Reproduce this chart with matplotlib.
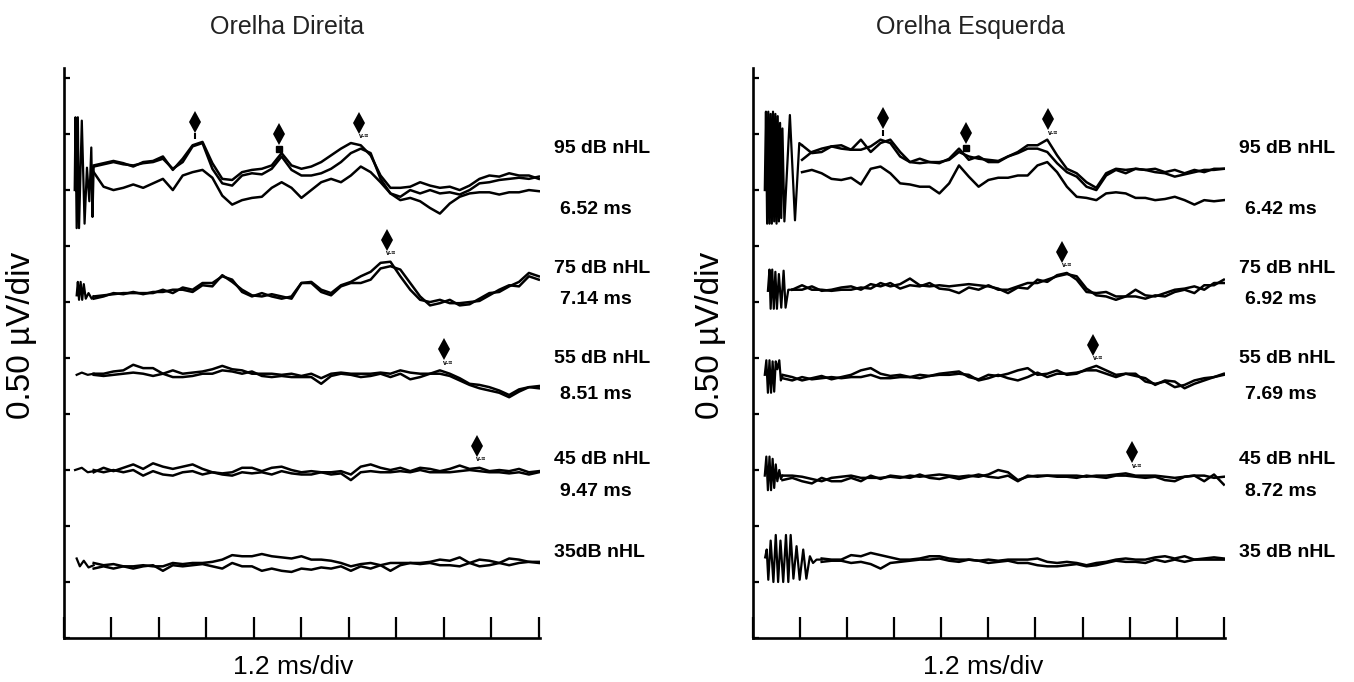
import numpy as np
import matplotlib.pyplot as plt
from matplotlib.ticker import MultipleLocator

plt.rcParams["font.family"] = ["Liberation Sans", "DejaVu Sans"]

STEP_MS = 0.25  # spacing of the samples

# vertical offset (uV) of each stimulus row in the stack
row_base = [4.0, 3.0, 2.35, 1.5, 0.67]
peak_names = [["I", "III", "V"], ["V"], ["V"], ["V"], []]

# ---------------- Orelha Direita (left panel) ----------------
od_db_labels = ["95 dB nHL", "75 dB nHL", "55 dB nHL", "45 dB nHL", "35dB nHL"]
od_latency_labels = ["6.52 ms", "7.14 ms", "8.51 ms", "9.47 ms", ""]
od_peak_ms = [[3.32, 5.44, 7.46], [8.16], [9.60], [10.43], []]
od_start_ms = [0.75, 0.75, 0.75, 0.75, 0.75]

od_95 = [
    [0.22, 0.24, 0.26, 0.24, 0.21, 0.25, 0.26, 0.30, 0.18, 0.28, 0.40, 0.43, 0.24, 0.10, 0.09, 0.16,
     0.18, 0.19, 0.22, 0.33, 0.22, 0.19, 0.21, 0.25, 0.31, 0.37, 0.42, 0.40, 0.31, 0.13, 0.02, 0.02,
     0.03, 0.07, 0.04, 0.02, 0.03, 0.00, 0.04, 0.10, 0.13, 0.12, 0.15, 0.13, 0.13, 0.10],
    [0.21, 0.23, 0.25, 0.23, 0.22, 0.24, 0.25, 0.28, 0.19, 0.25, 0.39, 0.42, 0.19, 0.06, 0.04, 0.13,
     0.15, 0.14, 0.19, 0.30, 0.18, 0.13, 0.13, 0.15, 0.19, 0.25, 0.33, 0.37, 0.33, 0.10, -0.03, -0.06,
     0.00, -0.03, 0.00, -0.03, -0.02, -0.04, 0.00, 0.06, 0.07, 0.09, 0.10, 0.11, 0.10, 0.12],
    [0.16, 0.03, 0.00, 0.02, 0.05, 0.02, 0.06, 0.10, 0.00, 0.13, 0.16, 0.18, 0.11, -0.05, -0.13, -0.09,
     -0.07, -0.06, 0.02, 0.07, 0.02, -0.07, 0.00, 0.07, 0.10, 0.07, 0.13, 0.21, 0.16, 0.07, -0.03, -0.09,
     -0.07, -0.10, -0.16, -0.21, -0.12, -0.06, -0.03, -0.02, -0.02, -0.04, -0.02, -0.02, 0.00, -0.01],
]
od_75 = [
    [0.05, 0.06, 0.07, 0.08, 0.08, 0.08, 0.08, 0.11, 0.08, 0.13, 0.11, 0.17, 0.17, 0.23, 0.20, 0.09,
     0.05, 0.08, 0.05, 0.03, 0.05, 0.17, 0.18, 0.11, 0.08, 0.15, 0.18, 0.23, 0.27, 0.35, 0.36, 0.23,
     0.11, 0.02, 0.00, 0.02, -0.01, -0.01, 0.00, 0.01, 0.06, 0.11, 0.15, 0.14, 0.23, 0.20],
    [0.03, 0.05, 0.08, 0.07, 0.09, 0.07, 0.09, 0.09, 0.11, 0.11, 0.09, 0.15, 0.14, 0.24, 0.18, 0.11,
     0.06, 0.05, 0.07, 0.05, 0.03, 0.17, 0.17, 0.09, 0.06, 0.14, 0.17, 0.17, 0.20, 0.30, 0.32, 0.29,
     0.17, 0.05, -0.03, -0.01, 0.02, -0.03, -0.02, 0.03, 0.08, 0.09, 0.14, 0.18, 0.26, 0.23],
]
od_55 = [
    [0.01, 0.01, 0.03, 0.04, 0.09, 0.06, 0.06, 0.01, 0.04, 0.01, 0.02, 0.03, 0.05, 0.08, 0.05, 0.04,
     0.01, 0.01, 0.01, 0.00, 0.01, -0.01, 0.01, -0.03, 0.01, 0.02, 0.01, 0.01, 0.01, 0.02, 0.01, 0.04,
     0.02, 0.01, 0.01, 0.04, 0.01, -0.03, -0.08, -0.09, -0.11, -0.14, -0.18, -0.13, -0.11, -0.10],
    [0.00, -0.01, 0.00, 0.01, 0.02, 0.01, -0.01, 0.01, -0.02, -0.02, -0.01, 0.01, 0.01, 0.04, 0.03, 0.01,
     0.03, -0.01, -0.02, -0.01, -0.02, -0.02, -0.02, -0.08, -0.01, 0.01, 0.00, -0.02, -0.01, 0.01, -0.02,
     0.01, -0.04, -0.02, 0.01, 0.01, -0.01, -0.05, -0.09, -0.12, -0.14, -0.16, -0.20, -0.15, -0.11, -0.12],
]
od_45 = [
    [-0.02, 0.02, -0.01, 0.02, 0.05, 0.01, 0.06, 0.03, 0.01, 0.03, 0.05, 0.01, -0.02, -0.03, -0.02, 0.02,
     0.02, -0.01, 0.02, 0.03, 0.00, -0.02, -0.01, -0.02, -0.02, -0.01, -0.04, 0.03, 0.05, 0.02, 0.00, 0.02,
     -0.01, 0.02, 0.01, -0.01, 0.01, 0.04, 0.01, 0.02, -0.01, 0.00, -0.01, 0.01, -0.02, -0.01],
    [0.00, -0.02, 0.00, -0.02, 0.00, -0.05, -0.01, -0.04, -0.05, -0.02, -0.01, -0.04, -0.02, -0.04, -0.05,
     -0.02, -0.03, -0.02, -0.04, -0.01, -0.03, -0.04, -0.04, -0.02, -0.04, -0.03, -0.09, -0.02, -0.01, -0.02,
     -0.02, -0.01, -0.02, 0.00, -0.02, -0.02, -0.02, -0.01, 0.00, -0.01, -0.02, -0.02, -0.03, -0.02, -0.04, -0.02],
]
od_35 = [
    [0.00, -0.02, -0.01, -0.03, -0.03, -0.02, -0.03, -0.03, 0.00, -0.01, 0.00, 0.00, 0.01, 0.03, 0.07, 0.06,
     0.06, 0.08, 0.06, 0.05, 0.04, 0.06, 0.03, 0.03, 0.02, 0.00, -0.03, -0.01, 0.00, -0.02, 0.00, 0.00,
     0.00, 0.00, 0.01, 0.03, 0.02, 0.05, 0.00, 0.03, 0.02, 0.00, 0.04, 0.03, 0.01, 0.01],
    [-0.05, -0.03, -0.05, -0.03, -0.05, -0.03, -0.02, -0.07, -0.02, -0.03, -0.02, -0.01, -0.03, -0.05, 0.00,
     -0.03, -0.03, -0.07, -0.05, -0.07, -0.08, -0.05, -0.06, -0.04, -0.05, -0.03, -0.07, -0.03, -0.05, -0.02,
     -0.07, -0.02, 0.00, -0.01, 0.00, -0.02, -0.02, -0.03, 0.00, -0.03, -0.02, 0.00, -0.02, 0.00, 0.01, 0.00],
]
# stimulus artifact at the start of each sweep (ms, uV)
od_art_t = [
    [0.27, 0.29, 0.32, 0.35, 0.38, 0.45, 0.52, 0.58, 0.64, 0.69, 0.72, 0.75],
    [0.32, 0.35, 0.38, 0.42, 0.46, 0.50, 0.55, 0.62, 0.70, 0.75],
    [0.32, 0.45, 0.60, 0.75],
    [0.28, 0.45, 0.60, 0.75],
    [0.32, 0.40, 0.50, 0.62, 0.75],
]
od_art_v = [
    [0.00, 0.65, -0.34, 0.65, -0.34, 0.62, -0.30, 0.20, -0.10, 0.38, -0.24, 0.20],
    [0.06, 0.18, 0.02, 0.18, 0.02, 0.16, 0.03, 0.08, 0.03, 0.05],
    [0.00, 0.02, 0.00, 0.01],
    [0.00, 0.02, -0.02, -0.01],
    [0.04, -0.03, 0.02, -0.04, -0.02],
]

# ---------------- Orelha Esquerda (right panel) ----------------
oe_db_labels = ["95 dB nHL", "75 dB nHL", "55 dB nHL", "45 dB nHL", "35 dB nHL"]
oe_latency_labels = ["6.42 ms", "6.92 ms", "7.69 ms", "8.72 ms", ""]
oe_peak_ms = [[3.31, 5.42, 7.53], [7.88], [8.67], [9.66], []]
oe_start_ms = [1.25, 1.0, 0.75, 0.75, 1.75]

oe_95 = [
    [0.40, 0.33, 0.34, 0.39, 0.37, 0.36, 0.45, 0.34, 0.42, 0.45, 0.34, 0.25, 0.28, 0.25, 0.25, 0.27,
     0.34, 0.30, 0.28, 0.27, 0.26, 0.30, 0.34, 0.40, 0.40, 0.45, 0.31, 0.19, 0.15, 0.07, 0.02, 0.15,
     0.19, 0.18, 0.19, 0.18, 0.19, 0.16, 0.18, 0.15, 0.18, 0.16, 0.19, 0.19],
    [0.27, 0.34, 0.37, 0.39, 0.40, 0.36, 0.36, 0.39, 0.45, 0.42, 0.30, 0.25, 0.24, 0.25, 0.24, 0.28,
     0.37, 0.27, 0.30, 0.25, 0.25, 0.30, 0.33, 0.37, 0.37, 0.34, 0.24, 0.16, 0.12, 0.03, 0.00, 0.13,
     0.18, 0.15, 0.19, 0.18, 0.16, 0.15, 0.12, 0.14, 0.16, 0.18, 0.18, 0.19],
    [0.16, 0.18, 0.15, 0.10, 0.09, 0.11, 0.05, 0.19, 0.21, 0.15, 0.06, 0.05, 0.03, 0.03, -0.03, 0.06,
     0.22, 0.12, 0.03, 0.09, 0.11, 0.11, 0.13, 0.13, 0.22, 0.25, 0.16, 0.03, -0.06, -0.07, -0.09, -0.03,
     -0.02, -0.03, -0.07, -0.07, -0.09, -0.08, -0.06, -0.09, -0.13, -0.09, -0.10, -0.09],
]
oe_75 = [
    [0.11, 0.15, 0.11, 0.11, 0.10, 0.11, 0.11, 0.13, 0.12, 0.17, 0.14, 0.16, 0.21, 0.15, 0.14, 0.15,
     0.14, 0.15, 0.16, 0.15, 0.14, 0.12, 0.08, 0.13, 0.12, 0.20, 0.18, 0.24, 0.26, 0.20, 0.09, 0.08,
     0.09, 0.05, 0.05, 0.11, 0.06, 0.05, 0.08, 0.11, 0.12, 0.14, 0.11, 0.17, 0.17],
    [0.11, 0.11, 0.14, 0.10, 0.11, 0.13, 0.14, 0.11, 0.16, 0.14, 0.17, 0.12, 0.15, 0.14, 0.17, 0.12,
     0.11, 0.08, 0.13, 0.11, 0.15, 0.11, 0.11, 0.14, 0.17, 0.17, 0.20, 0.23, 0.25, 0.23, 0.12, 0.06,
     0.05, 0.02, 0.05, 0.05, 0.03, 0.06, 0.05, 0.09, 0.11, 0.08, 0.15, 0.15, 0.20],
]
oe_55 = [
    [0.00, -0.02, -0.05, -0.03, -0.01, -0.04, -0.02, 0.00, 0.04, 0.06, 0.01, -0.01, 0.00, -0.02, 0.00,
     -0.01, 0.01, 0.02, 0.03, -0.02, -0.04, 0.00, -0.01, 0.01, 0.04, 0.06, 0.00, 0.01, 0.04, 0.00, 0.01,
     0.05, 0.08, 0.04, 0.00, 0.01, 0.01, -0.06, -0.08, -0.06, -0.11, -0.09, -0.05, -0.03, -0.02, 0.00],
    [-0.03, -0.05, -0.02, -0.04, -0.03, -0.02, -0.03, -0.02, -0.02, 0.00, -0.03, -0.03, -0.02, -0.02, -0.03,
     -0.01, 0.00, 0.00, 0.01, 0.00, -0.05, -0.03, 0.00, -0.03, -0.05, -0.02, 0.02, -0.02, 0.01, 0.01, 0.02,
     0.04, 0.04, 0.01, -0.02, 0.01, -0.01, -0.03, -0.09, -0.05, -0.06, -0.12, -0.08, -0.05, -0.02, 0.01],
]
oe_45 = [
    [-0.05, -0.05, -0.06, -0.08, -0.10, -0.07, -0.06, -0.05, -0.07, -0.07, -0.07, -0.06, -0.07, -0.05, -0.06,
     -0.05, -0.04, -0.05, -0.06, -0.05, -0.06, -0.04, 0.00, -0.02, -0.09, -0.06, -0.05, -0.05, -0.05, -0.05,
     -0.05, -0.06, -0.05, -0.05, -0.04, -0.03, -0.05, -0.05, -0.05, -0.06, -0.07, -0.06, -0.05, -0.05, -0.07, -0.06],
    [-0.09, -0.07, -0.10, -0.12, -0.07, -0.10, -0.10, -0.07, -0.10, -0.05, -0.08, -0.05, -0.06, -0.07, -0.04,
     -0.07, -0.08, -0.06, -0.08, -0.06, -0.04, -0.06, -0.07, -0.05, -0.10, -0.05, -0.06, -0.05, -0.06, -0.06,
     -0.07, -0.05, -0.06, -0.07, -0.05, -0.05, -0.06, -0.07, -0.06, -0.09, -0.10, -0.06, -0.05, -0.10, -0.04, -0.13],
]
oe_35 = [
    [0.04, 0.03, 0.03, 0.07, 0.06, 0.09, 0.07, 0.05, 0.03, 0.03, 0.04, 0.06, 0.06, 0.04, 0.03, 0.03,
     0.02, 0.03, 0.02, 0.03, 0.03, 0.03, 0.04, 0.01, 0.00, 0.01, 0.00, -0.02, 0.00, 0.01, 0.03, 0.04,
     0.03, 0.03, 0.05, 0.06, 0.04, 0.06, 0.03, 0.04, 0.05, 0.04],
    [0.01, 0.02, 0.02, 0.00, 0.01, -0.01, -0.05, 0.00, 0.01, 0.02, 0.03, 0.03, 0.04, 0.02, 0.01, 0.03,
     0.02, 0.00, 0.01, 0.02, 0.00, 0.00, -0.02, -0.03, -0.03, -0.02, -0.01, -0.03, -0.02, 0.00, 0.02, 0.01,
     0.01, 0.00, 0.03, 0.01, 0.03, 0.01, 0.03, 0.03, 0.03, 0.03],
]
oe_art_t = [
    [0.30, 0.33, 0.36, 0.39, 0.42, 0.45, 0.48, 0.51, 0.54, 0.57, 0.60, 0.63, 0.66, 0.69, 0.72, 0.75,
     0.80, 0.94, 1.07, 1.18, 1.25],
    [0.38, 0.42, 0.45, 0.49, 0.53, 0.57, 0.61, 0.66, 0.72, 0.78, 0.83, 0.90, 1.00],
    [0.30, 0.34, 0.38, 0.42, 0.46, 0.50, 0.54, 0.58, 0.62, 0.67, 0.71, 0.75],
    [0.30, 0.34, 0.38, 0.42, 0.46, 0.50, 0.54, 0.58, 0.62, 0.67, 0.71, 0.75],
    [0.31, 0.35, 0.39, 0.45, 0.52, 0.58, 0.64, 0.70, 0.77, 0.84, 0.90, 0.96, 1.03, 1.11, 1.19, 1.28,
     1.36, 1.45, 1.53, 1.62, 1.75],
]
oe_art_v = [
    [0.00, 0.70, -0.30, 0.70, -0.30, 0.68, -0.30, 0.70, -0.28, 0.68, -0.30, 0.66, -0.28, 0.60, -0.25, 0.55,
     -0.28, 0.67, -0.27, 0.42, 0.40],
    [0.10, 0.29, -0.06, 0.29, -0.06, 0.27, -0.06, 0.25, -0.05, 0.28, -0.05, 0.11, 0.11],
    [0.00, 0.13, -0.16, 0.13, -0.16, 0.12, -0.15, 0.12, 0.05, 0.13, -0.05, -0.01],
    [-0.05, 0.12, -0.18, 0.12, -0.18, 0.10, -0.16, 0.05, -0.10, 0.00, -0.08, -0.05],
    [0.05, 0.12, -0.15, 0.20, -0.17, 0.25, -0.17, 0.20, -0.17, 0.25, -0.17, 0.25, -0.14, 0.15, -0.15, 0.12,
     -0.14, 0.06, 0.00, 0.03, 0.03],
]

# layout of the row labels (uV)
label_y = [4.37, 3.30, 2.50, 1.59, 0.76]
lat_y = [3.83, 3.02, 2.17, 1.31, 0.0]


def draw_panel(ax, rows, starts, art_t, art_v, peaks, db_labels, lat_labels):
    for i, traces in enumerate(rows):
        base = row_base[i]
        ax.plot(art_t[i], base + np.array(art_v[i]), color="black", lw=1.6)
        curves = []
        for v in traces:
            t = starts[i] + STEP_MS * np.arange(len(v))
            ax.plot(t, base + np.array(v), color="black", lw=1.8, solid_joinstyle="round")
            curves.append((t, base + np.array(v)))
        # peak markers above the highest trace at each latency
        for lat, name in zip(peaks[i], peak_names[i]):
            top = max(np.interp(lat, t, y) for t, y in curves)
            ax.plot(lat, top + 0.20, marker="d", ms=11, color="black", mew=0)
            if name == "I":
                ax.plot(lat, top + 0.07, marker="|", ms=4, mew=1.5, color="black")
            elif name == "III":
                ax.plot(lat, top + 0.06, marker="s", ms=4, color="black")
            else:
                ax.text(lat + 0.12, top + 0.075, "v-\u2261", fontsize=5, fontweight="bold",
                        ha="center", va="center")
        tr = ax.get_yaxis_transform()
        ax.text(1.03, label_y[i], db_labels[i], transform=tr, fontsize=14, fontweight="bold",
                ha="left", va="center")
        if lat_labels[i]:
            ax.text(1.042, lat_y[i], lat_labels[i], transform=tr, fontsize=14, fontweight="bold",
                    ha="left", va="center")

    ax.set_xlim(0, 12.03)
    ax.set_ylim(0, 5.09)
    for side in ("top", "right"):
        ax.spines[side].set_visible(False)
    for side in ("left", "bottom"):
        ax.spines[side].set_linewidth(1.9)
    ax.xaxis.set_major_locator(MultipleLocator(1.2))
    ax.yaxis.set_major_locator(MultipleLocator(0.5))
    ax.tick_params(axis="x", direction="in", length=15, width=1.6, labelbottom=False)
    ax.tick_params(axis="y", direction="in", length=4.5, width=1.6, labelleft=False)


W, H = 1354, 682
fig = plt.figure(figsize=(W / 100, H / 100), dpi=100)
ax_od = fig.add_axes([64 / W, 44 / H, 476 / W, 570 / H])
ax_oe = fig.add_axes([753 / W, 44 / H, 472 / W, 570 / H])

draw_panel(ax_od, [od_95, od_75, od_55, od_45, od_35], od_start_ms, od_art_t, od_art_v,
           od_peak_ms, od_db_labels, od_latency_labels)
draw_panel(ax_oe, [oe_95, oe_75, oe_55, oe_45, oe_35], oe_start_ms, oe_art_t, oe_art_v,
           oe_peak_ms, oe_db_labels, oe_latency_labels)

fig.text(287 / W, 1 - 27 / H, "Orelha Direita", fontsize=18, color="#222222", ha="center", va="center")
fig.text(970 / W, 1 - 27 / H, "Orelha Esquerda", fontsize=18, color="#222222", ha="center", va="center")
for x in (293, 983):
    fig.text(x / W, 1 - 667 / H, "1.2 ms/div", fontsize=19, ha="center", va="center")
for x in (22, 710):
    fig.text(x / W, 1 - 335 / H, "0.50 \u00b5V/div", fontsize=24, rotation=90, ha="center", va="center")

fig.savefig("out.png", dpi=100)
